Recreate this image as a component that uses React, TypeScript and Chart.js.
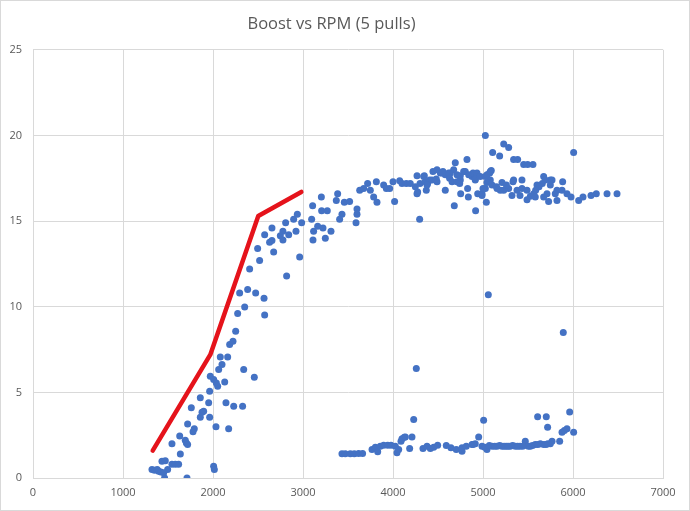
import React, { useEffect, useRef } from "react";
import { Chart, registerables } from "chart.js";

Chart.register(...registerables);

const chartTitle = "Boost vs RPM (5 pulls)";
const xTickValues = [0, 1000, 2000, 3000, 4000, 5000, 6000, 7000];
const yTickValues = [0, 5, 10, 15, 20, 25];

const rpm = [
  1322, 1350, 1380, 1396, 1420, 1433, 1452, 1462, 1470, 1496, 1544, 1581, 1618, 1711, 1637, 1544, 1630, 1692, 1704, 1718,
  1718, 1778, 1792, 1759, 1859, 1878, 1896, 1859, 1952, 1963, 2033, 1963, 1970, 2007, 2037, 2052, 2130, 2063, 2100, 2081,
  2163, 2144, 2230, 2329, 2174, 2007, 2015, 2341, 2459, 2185, 2222, 2252, 2274, 2352, 2574, 2296, 2385, 2474, 2567, 2407,
  2518, 2496, 2574, 2655, 2629, 2655, 2674, 2818, 2748, 2777, 2777, 2807, 2841, 2896, 2937, 2922, 2985, 2963,
  3096, 3107, 3204, 3207, 3270, 3118, 3163, 3222, 3311, 3111, 3248, 3385, 3370, 3459, 3518, 3433, 3407, 3600, 3600, 3589,
  3630, 3674, 3718, 3748, 3815, 3785, 3822, 3896, 3926, 3963, 4000, 4018, 4074, 4100, 4148, 4192, 4267, 4348, 4296, 4248,
  4274, 4300, 4359, 4385, 4370, 4267, 4341, 4407, 4378, 4433, 4489,
  4444, 4526, 4581, 4637, 4692, 4674, 4711, 4748, 4803, 4822, 4878, 4914, 4933, 4989, 5026, 5037, 5081, 4489, 4555, 4544,
  4618, 4629, 4656, 4711, 4741, 4748, 4785, 4841, 4889, 4933, 4914, 4970, 5026, 5074, 5092, 4481,
  4581, 4681, 4752, 4829, 4837, 4918, 4941, 5000,
  5026, 5107, 5185, 5230, 5285, 5340, 5385, 5452, 5496, 5555, 6007,
  5044, 5100, 5156, 5211, 5230, 5285, 5340, 5378, 5433, 5433, 5489, 5526, 5563, 5600, 5489, 5411, 5322, 5192, 4989,
  5044, 5081, 5333, 5748, 5150, 5260,
  5674, 5767, 5885, 5748, 5822, 5878, 5659, 5622, 5585, 5711, 5803, 5729, 5822, 5674, 5581, 5692, 5933, 5978, 6063, 6111,
  6200, 6259, 6378, 6489,
  5059, 5892, 4259,
  3433, 3470, 3526, 3570, 3618, 3662, 3767, 3804, 3830, 3859, 3896, 3941, 3978, 4026, 4044, 4063, 4089, 4126, 4185, 4211,
  4230, 4100, 4137,
  4333, 4378, 4415, 4452, 4496, 4592, 4644, 4703, 4767, 4767, 4814, 4878, 4914, 4952, 5007, 4889,
  4989, 5044, 5100, 5156, 5211, 5259, 5303, 5359, 5411, 5467, 5470, 5504, 5526, 5581, 5637, 5674, 5748, 5767, 5852, 5607,
  5703, 5718, 5878, 5904, 5933, 5963, 6007,
  5020, 5070, 5130, 5185, 5235, 5280, 5330, 5385, 5440, 5550, 5610, 5700, 5720,
];

const boost = [
  0.5, 0.45, 0.5, 0.4, 0.35, 0.98, 0.3, 0.0, 1.0, 0.5, 0.8, 0.8, 0.8, 0.0, 1.4, 2.0, 2.45, 2.2, 2.05, 1.95,
  3.15, 2.7, 2.87, 4.1, 3.55, 3.84, 3.9, 4.68, 4.39, 3.55, 2.99, 5.07, 5.94, 5.75, 5.55, 5.36, 5.6, 6.33, 6.62, 7.07,
  7.07, 4.39, 4.19, 4.19, 2.87, 0.69, 0.5, 6.33, 5.88, 7.79, 7.98, 8.57, 9.6, 9.99, 9.52, 10.8, 11.0, 10.8, 10.5, 12.2,
  12.7, 13.4, 14.2, 14.6, 13.76, 13.86, 13.2, 11.8, 14.15, 14.4, 13.9, 14.9, 14.2, 15.1, 15.4, 14.4, 14.9, 12.9,
  15.1, 15.9, 16.4, 15.6, 15.6, 14.4, 14.7, 14.6, 14.4, 13.9, 14.0, 16.6, 16.2, 16.1, 16.15, 15.4, 15.1, 15.7, 15.4, 14.9,
  16.8, 16.9, 17.2, 16.8, 17.3, 16.4, 16.1, 17.1, 16.9, 16.9, 17.3, 16.15, 17.36, 17.2, 17.2, 17.2, 17.65, 17.65, 15.1, 17.0,
  16.7, 17.2, 17.3, 17.2, 16.8, 16.6, 17.6, 17.4, 17.1, 17.4, 17.3,
  17.9, 17.8, 17.7, 17.8, 18.4, 18.0, 17.7, 17.4, 17.9, 18.6, 17.6, 17.4, 17.7, 16.6, 16.9, 16.1, 17.4, 18.0, 17.9, 17.8,
  17.8, 17.5, 17.3, 17.3, 17.2, 17.65, 17.9, 17.7, 17.8, 17.8, 17.45, 17.6, 17.6, 17.8, 17.95, 17.45,
  16.8, 15.9, 16.6, 16.9, 16.4, 15.6, 16.6, 16.9,
  20.0, 19.0, 18.8, 19.5, 19.3, 18.6, 18.6, 18.3, 18.3, 18.3, 19.0,
  17.25, 17.1, 16.9, 17.25, 16.8, 16.9, 17.4, 16.8, 17.4, 16.9, 16.8, 16.45, 16.6, 17.1, 16.25, 16.5, 16.5, 16.8, 16.5,
  17.7, 17.9, 17.3, 17.4, 17.0, 17.1,
  17.6, 17.4, 17.3, 17.1, 16.8, 16.8, 17.2, 17.0, 16.8, 16.6, 16.6, 16.15, 16.2, 16.4, 16.4, 17.4, 16.6, 16.4, 16.2, 16.4,
  16.5, 16.6, 16.6, 16.6,
  10.7, 8.5, 6.4,
  1.41, 1.41, 1.41, 1.41, 1.43, 1.43, 1.66, 1.8, 1.53, 1.86, 1.91, 1.91, 1.91, 1.86, 1.47, 1.66, 2.15, 2.38, 1.72, 2.4,
  3.41, 2.29, 2.4,
  1.72, 1.86, 1.72, 1.8, 1.91, 1.9, 1.76, 1.66, 1.56, 1.76, 1.86, 1.95, 2.0, 2.4, 3.37, 1.95,
  1.86, 1.66, 1.86, 1.86, 1.86, 1.86, 1.86, 1.86, 1.86, 1.91, 2.15, 1.86, 1.86, 1.95, 2.0, 1.95, 2.0, 2.15, 2.15, 3.57,
  3.57, 2.97, 2.67, 2.77, 2.87, 3.86, 2.67,
  1.8, 1.9, 1.86, 1.9, 1.86, 1.86, 1.9, 1.86, 1.86, 1.9, 1.95, 1.95, 2.0,
];

const trendRpm = [1330, 1970, 2503, 2981];
const trendBoost = [1.6, 7.2, 15.3, 16.7];

const FONT = "'Open Sans', 'Liberation Sans', sans-serif";
const TEXT_COLOR = "#595959";
const GRID_COLOR = "#d9d9d9";

const bgPlugin = {
  id: "bgBorder",
  beforeDraw(chart: any) {
    const ctx = chart.ctx;
    ctx.save();
    ctx.fillStyle = "#ffffff";
    ctx.fillRect(0, 0, chart.width, chart.height);
    ctx.restore();
  },
  afterDraw(chart: any) {
    const ctx = chart.ctx;
    ctx.save();
    ctx.strokeStyle = GRID_COLOR;
    ctx.lineWidth = 1;
    ctx.strokeRect(0.5, 0.5, chart.width - 1, chart.height - 1);
    ctx.restore();
  },
};

export default function App() {
  const ref = useRef<HTMLCanvasElement | null>(null);

  useEffect(() => {
    if (!ref.current) return;
    const scatterData = rpm.map((x, i) => ({ x, y: boost[i] }));
    const lineData = trendRpm.map((x, i) => ({ x, y: trendBoost[i] }));
    const chart = new Chart(ref.current, {
      type: "scatter",
      data: {
        datasets: [
          {
            label: "Trend",
            data: lineData,
            showLine: true,
            borderColor: "#E5131B",
            backgroundColor: "#E5131B",
            borderWidth: 4.5,
            borderCapStyle: "round",
            borderJoinStyle: "round",
            pointRadius: 0,
            pointHoverRadius: 0,
          },
          {
            label: "Boost",
            data: scatterData,
            backgroundColor: "#4472C4",
            borderColor: "#4472C4",
            borderWidth: 0,
            pointRadius: 3.5,
            pointHoverRadius: 3.5,
          },
        ],
      },
      options: {
        animation: false,
        responsive: false,
        maintainAspectRatio: false,
        layout: { padding: { left: 0, right: 27, top: 0, bottom: 0 } },
        plugins: {
          legend: { display: false },
          tooltip: { enabled: false },
          title: {
            display: true,
            text: chartTitle,
            color: TEXT_COLOR,
            font: { family: FONT, size: 16.5, weight: "normal" },
            padding: { top: 14, bottom: 16 },
          },
        },
        scales: {
          x: {
            type: "linear",
            min: 0,
            max: 7000,
            afterFit: (s: any) => {
              s.height = 33;
            },
            afterBuildTicks: (s: any) => {
              s.ticks = xTickValues.map((v) => ({ value: v }));
            },
            ticks: {
              color: TEXT_COLOR,
              font: { family: FONT, size: 11 },
              padding: 8,
              maxRotation: 0,
              callback: (v: any) => String(v),
            },
            grid: { color: GRID_COLOR, drawTicks: false, lineWidth: 1 },
            border: { color: GRID_COLOR },
          },
          y: {
            type: "linear",
            min: 0,
            max: 25,
            afterFit: (s: any) => {
              s.width = 33;
            },
            afterBuildTicks: (s: any) => {
              s.ticks = yTickValues.map((v) => ({ value: v }));
            },
            ticks: {
              color: TEXT_COLOR,
              font: { family: FONT, size: 11 },
              padding: 11,
              callback: (v: any) => String(v),
            },
            grid: { color: GRID_COLOR, drawTicks: false, lineWidth: 1 },
            border: { color: GRID_COLOR },
          },
        },
      },
      plugins: [bgPlugin],
    } as any);
    return () => chart.destroy();
  }, []);

  return (
    <div style={{ position: "absolute", left: 0, top: 0, width: 690, height: 511 }}>
      <canvas ref={ref} width={690} height={511} style={{ width: 690, height: 511, display: "block" }} />
    </div>
  );
}
